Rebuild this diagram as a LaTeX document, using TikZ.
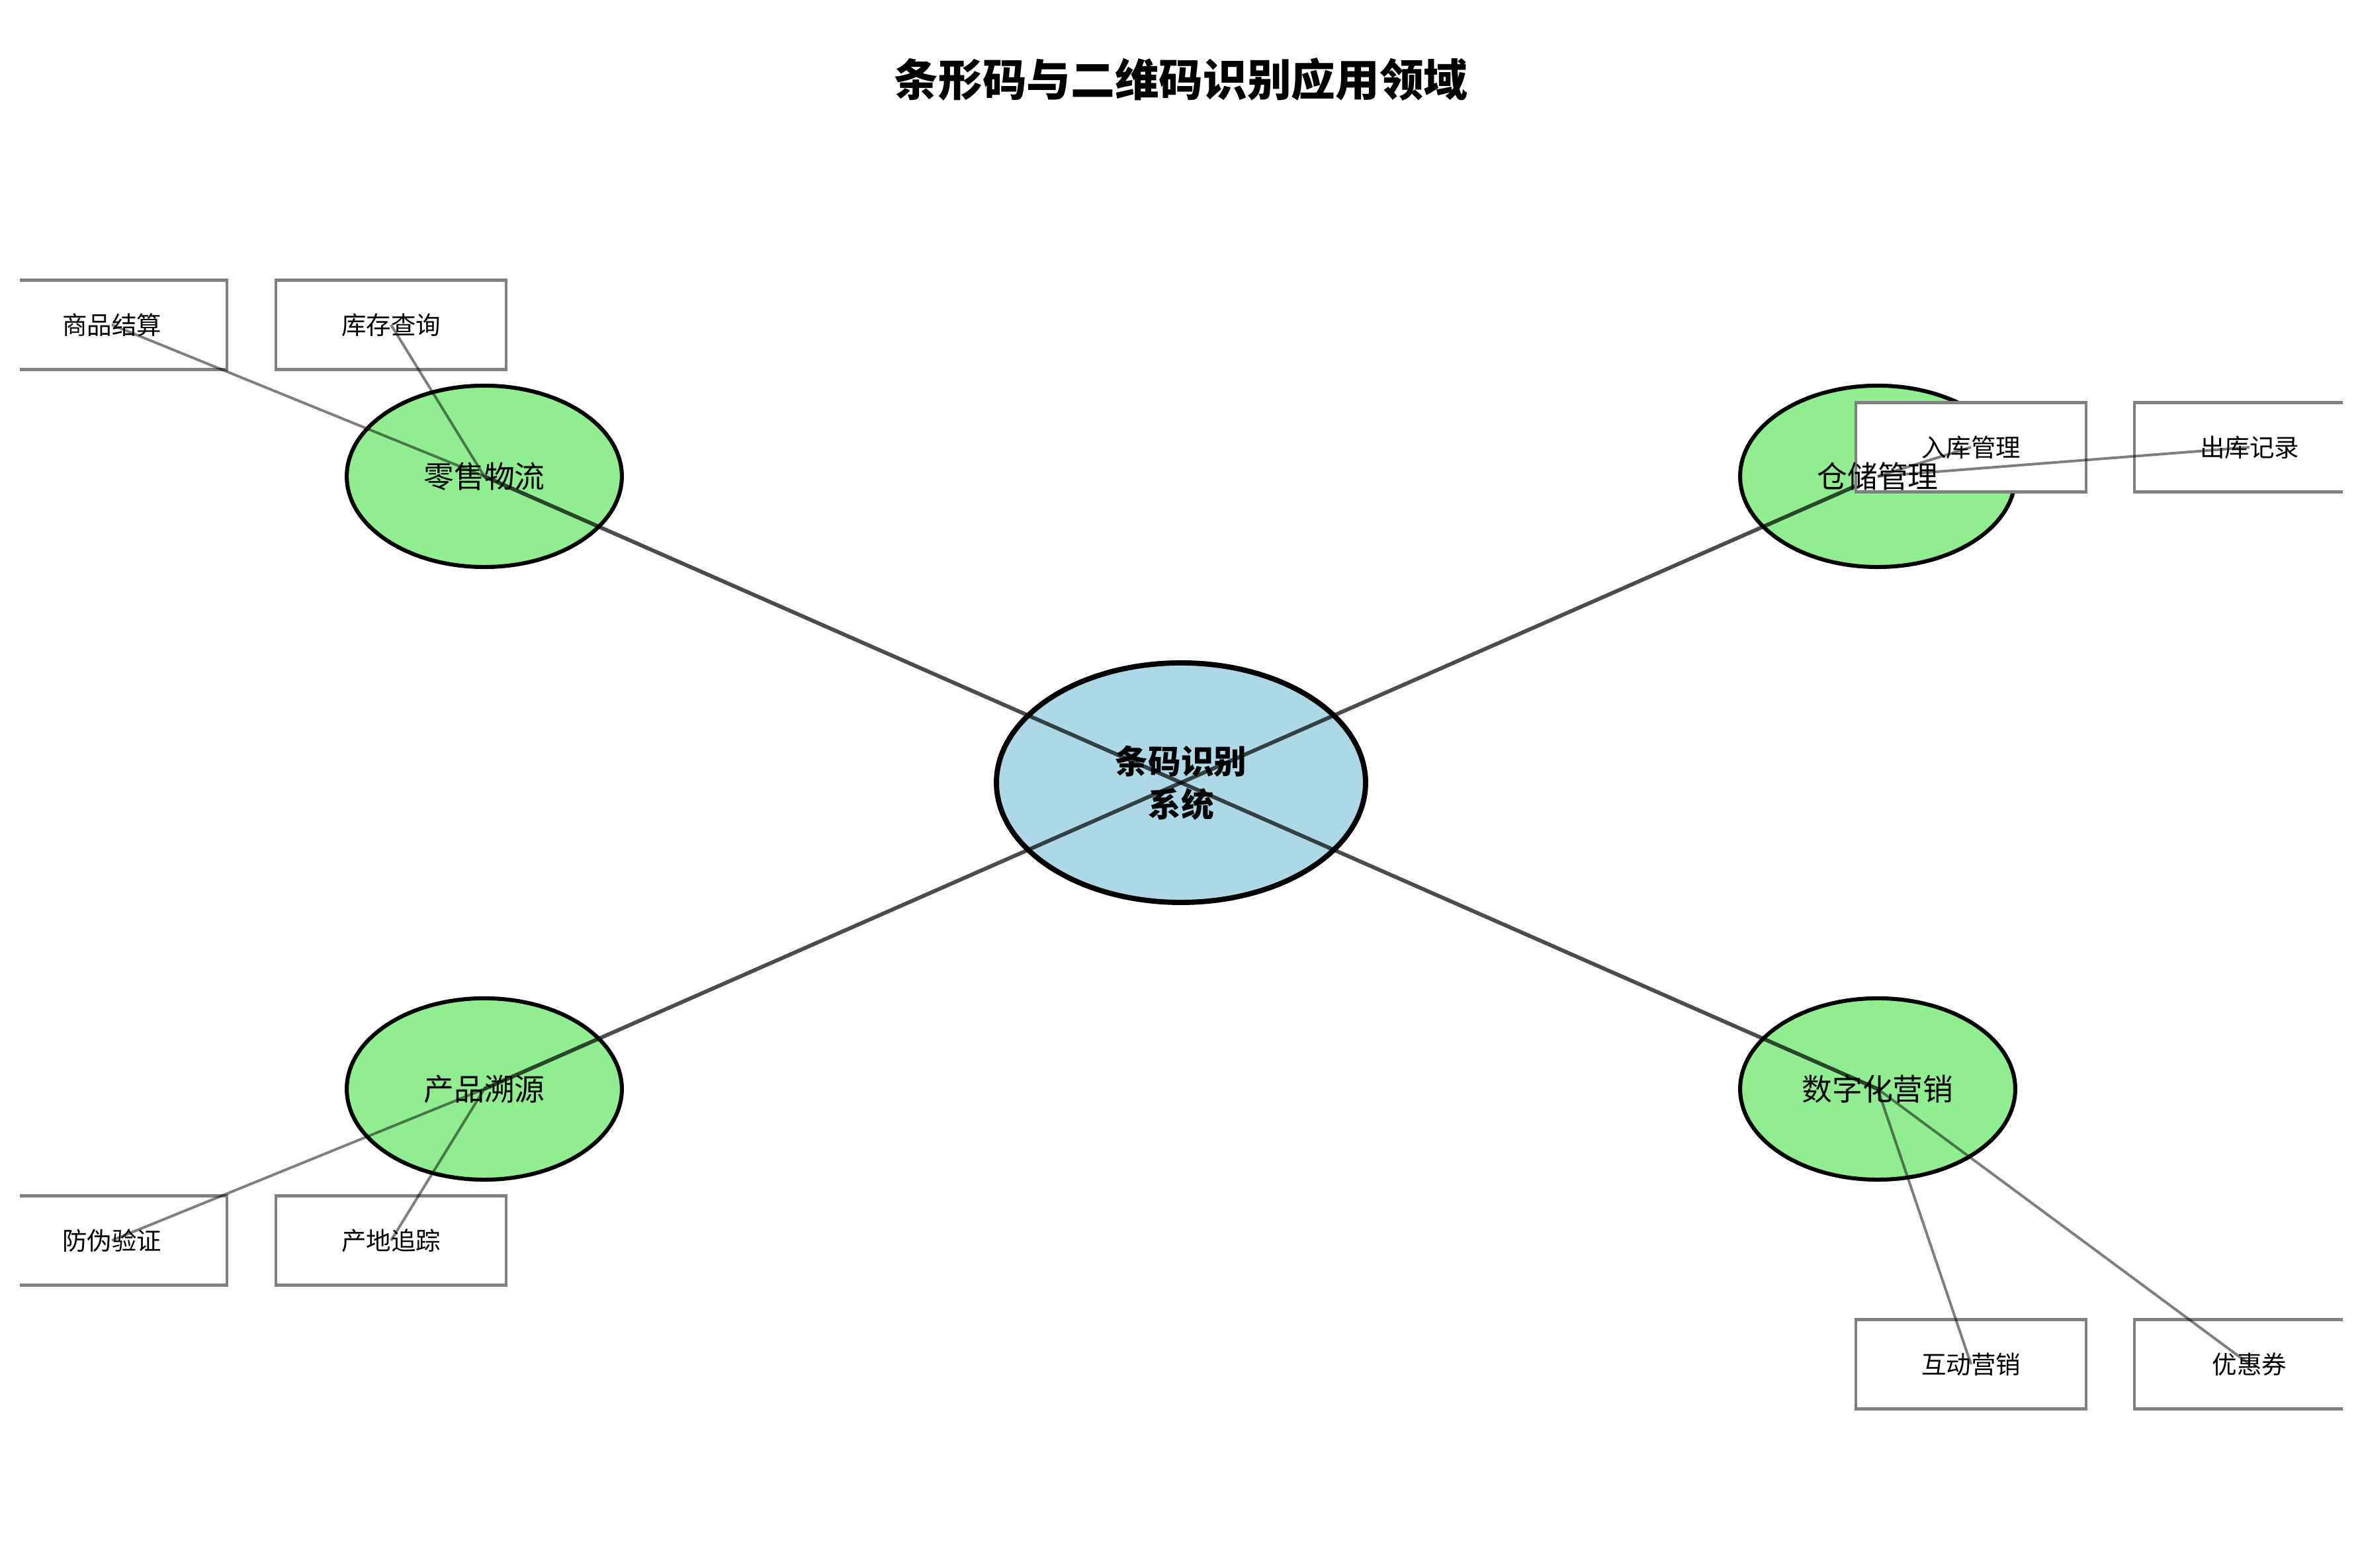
\documentclass[tikz,border=0pt]{standalone}
\usepackage{fontspec}
\usepackage{tikz}
\usetikzlibrary{shapes.geometric}
\setmainfont{Noto Sans CJK SC}
\definecolor{hubblue}{HTML}{ADD8E6}
\definecolor{catgreen}{HTML}{90EE90}

\begin{document}
\begin{tikzpicture}[x=24pt, y=24pt,
    hubnode/.style={ellipse, draw=black, line width=1.9pt, fill=hubblue, minimum width=133.9pt, minimum height=86.9pt, inner sep=0pt},
    catnode/.style={ellipse, draw=black, line width=1.45pt, fill=catgreen, minimum width=99.8pt, minimum height=65.8pt, inner sep=0pt},
    leafbox/.style={rectangle, draw=gray, line width=1pt, fill=white, minimum width=83.5pt, minimum height=32.4pt, inner sep=0pt},
    trunk/.style={draw=black, opacity=0.7, line width=1.4pt},
    twig/.style={draw=black, opacity=0.5, line width=0.95pt},
    hubtext/.style={font=\bfseries\fontsize{11.9}{15.6}\selectfont, align=center, inner sep=0pt},
    cattext/.style={font=\fontsize{11}{13}\selectfont, inner sep=0pt},
    leaftext/.style={font=\fontsize{9}{11}\selectfont, inner sep=0pt}]
    \useasboundingbox (0,0) rectangle (35.70,23.70);

    % --- 标题 ---
    \node[font=\bfseries\fontsize{16}{19}\selectfont] (title) at (17.85,22.50) {条形码与二维码识别应用领域};

    \begin{scope}
        \clip (0.30,0) rectangle (35.41,23.70);
        % --- 中心与四个领域 ---
        \node[hubnode] (hub) at (17.85,11.87) {};
        \node[catnode] (retail) at (7.32,16.50) {};
        \node[catnode] (storage) at (28.38,16.50) {};
        \node[catnode] (trace) at (7.32,7.24) {};
        \node[catnode] (market) at (28.38,7.24) {};
        \draw[trunk] (hub.center) -- (retail.center);
        \draw[trunk] (hub.center) -- (storage.center);
        \draw[trunk] (hub.center) -- (trace.center);
        \draw[trunk] (hub.center) -- (market.center);

        % --- 应用方框 ---
        \node[leafbox] (checkout) at (1.69,18.79) {};
        \node[leafbox] (stockquery) at (5.91,18.79) {};
        \node[leafbox] (inbound) at (29.79,16.94) {};
        \node[leafbox] (outbound) at (34.00,16.94) {};
        \node[leafbox] (antifake) at (1.69,4.95) {};
        \node[leafbox] (origin) at (5.91,4.95) {};
        \node[leafbox] (interact) at (29.79,3.08) {};
        \node[leafbox] (coupon) at (34.00,3.08) {};
        \draw[twig] (retail.center) -- (checkout.center);
        \draw[twig] (retail.center) -- (stockquery.center);
        \draw[twig] (storage.center) -- (inbound.center);
        \draw[twig] (storage.center) -- (outbound.center);
        \draw[twig] (trace.center) -- (antifake.center);
        \draw[twig] (trace.center) -- (origin.center);
        \draw[twig] (market.center) -- (interact.center);
        \draw[twig] (market.center) -- (coupon.center);

        % --- 文字 ---
        \node[hubtext] at (hub) {条码识别\\系统};
        \node[cattext] at (retail) {零售物流};
        \node[cattext] at (storage) {仓储管理};
        \node[cattext] at (trace) {产品溯源};
        \node[cattext] at (market) {数字化营销};
        \node[leaftext] at (checkout) {商品结算};
        \node[leaftext] at (stockquery) {库存查询};
        \node[leaftext] at (inbound) {入库管理};
        \node[leaftext] at (outbound) {出库记录};
        \node[leaftext] at (antifake) {防伪验证};
        \node[leaftext] at (origin) {产地追踪};
        \node[leaftext] at (interact) {互动营销};
        \node[leaftext] at (coupon) {优惠券};
    \end{scope}
\end{tikzpicture}
\end{document}
